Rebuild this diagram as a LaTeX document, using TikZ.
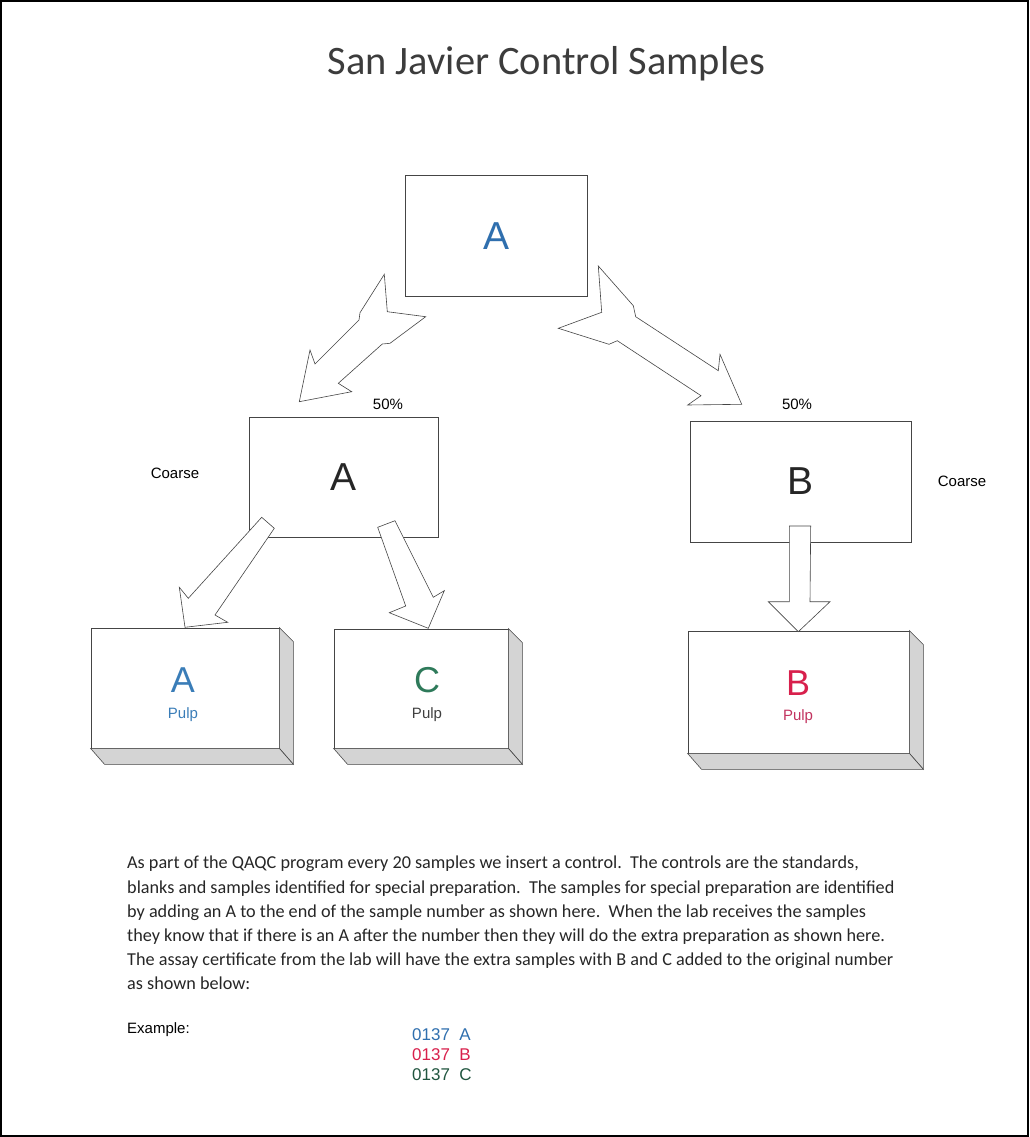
\documentclass[tikz,border=0pt]{standalone}
\usepackage{fontspec}
\usetikzlibrary{calc}
\setmainfont{Liberation Sans}
\newfontfamily\calib{Carlito}
\definecolor{ablue}{HTML}{2F6FAE}
\definecolor{pblue}{HTML}{3A7DB8}
\definecolor{cgreen}{HTML}{2E7A5A}
\definecolor{bred}{HTML}{D8204C}
\definecolor{pred}{HTML}{C2335F}
\definecolor{shade}{HTML}{D4D4D4}
\definecolor{edge}{HTML}{454545}
\definecolor{ttl}{HTML}{3C3C3C}
\begin{document}
\begin{tikzpicture}[x=1pt,y=-1pt,
  box/.style={draw=edge,line width=0.8pt,fill=white,inner sep=0pt},
  barrow/.style={draw=edge,line width=0.6pt,fill=white,line join=miter},
  sidef/.style={draw=edge,line width=0.6pt,fill=shade},
  lbl/.style={font=\fontsize{15}{18}\selectfont,inner sep=0pt},
  big/.style={font=\fontsize{39}{44}\selectfont,inner sep=0pt},
  mid/.style={font=\fontsize{36}{40}\selectfont,inner sep=0pt}]
\useasboundingbox (0,0) rectangle (1029,1137);
\draw[line width=1.5pt] (1,1) rectangle (1028,1136);

% title
\node[font=\calib\fontsize{40.4}{46}\selectfont,inner sep=0pt,anchor=base,text=ttl] (title) at (546.5,75) {San Javier Control Samples};

% top box
\node[box,minimum width=182pt,minimum height=121pt] (top) at (496,236) {};
\node[big,text=ablue] (topA) at (top.center) {A};

% middle boxes
\node[box,minimum width=189pt,minimum height=120pt] (midA) at (343.5,477) {};
\node[big,text=black!85] (midAl) at (midA.center) {A};
\node[box,minimum width=221pt,minimum height=121pt] (midB) at (800.5,481.5) {};
\node[big,text=black!85] (midBl) at (midB.center) {B};
\node[lbl] (pctA) at (388,404) {50\%};
\node[lbl] (pctB) at (797,404) {50\%};
\node[lbl] (coA) at (175,473) {Coarse};
\node[lbl] (coB) at (962,481) {Coarse};

% bottom 3D boxes
\node[box,minimum width=188pt,minimum height=120pt] (pA) at (185,688) {};
\node[box,minimum width=174pt,minimum height=119pt] (pC) at (421,688.5) {};
\node[box,minimum width=221pt,minimum height=122pt] (pB) at (798.5,692) {};
\foreach \n in {pA,pC,pB}{
  \draw[sidef] (\n.north east) -- ($(\n.north east)+(14,14)$) -- ($(\n.south east)+(14,16)$) -- (\n.south east) -- cycle;
  \draw[sidef] (\n.south west) -- ($(\n.south west)+(14,16)$) -- ($(\n.south east)+(14,16)$) -- (\n.south east) -- cycle;
}
\node[mid,text=pblue] (pAl) at (183,680) {A};
\node[lbl,text=pblue] (pAt) at (183,715) {Pulp};
\node[mid,text=cgreen] (pCl) at (427,680) {C};
\node[lbl,text=black!75] (pCt) at (427,715) {Pulp};
\node[mid,text=bred] (pBl) at (798,683) {B};
\node[lbl,text=pred] (pBt) at (798,717) {Pulp};

% block arrows
\draw[barrow] (384.3,274.3) -- (387.3,311.7) -- (425.7,316.7) -- (390,343.3) -- (382.3,344)
  -- (338.3,383.3) -- (351.7,391.7) -- (299.3,401.7) -- (310,350) -- (315,364)
  -- (359,320) -- (360,312.7) -- cycle;
\draw[barrow] (598.3,266) -- (601.7,312.3) -- (558.3,328.3) -- (609,344.3) -- (617.3,340.7)
  -- (701,395.7) -- (687.7,405) -- (741.7,404.3) -- (720,354.3) -- (718.3,370.7)
  -- (635.7,316.7) -- (633.3,305.7) -- cycle;
\draw[barrow] (261.7,517.3) -- (274.3,528.3) -- (215,615) -- (227.7,622.3) -- (185,627.3)
  -- (179.3,587.3) -- (188.3,598.3) -- cycle;
\draw[barrow] (377.7,527.3) -- (395,520.7) -- (433.3,597.3) -- (444.3,590.7) -- (428.3,628.3)
  -- (389.3,612.7) -- (405.7,606) -- cycle;
\draw[barrow] (789.3,526) -- (810.7,526) -- (810,601.7) -- (830,601.7) -- (798.3,631.7)
  -- (768.3,601.7) -- (789.3,601.7) -- cycle;

% body text
\node[font=\calib\fontsize{18.2}{24.2}\selectfont,align=left,anchor=north west,inner sep=0pt,text=black!85] (body) at (127,856)
{As part of the QAQC program every 20 samples we insert a control.\ \ The controls are the standards,\\
blanks and samples identified for special preparation.\ \ The samples for special preparation are identified\\
by adding an A to the end of the sample number as shown here.\ \ When the lab receives the samples\\
they know that if there is an A after the number then they will do the extra preparation as shown here.\\
The assay certificate from the lab will have the extra samples with B and C added to the original number\\
as shown below:};

\node[lbl,anchor=west] (ex) at (127,1030) {Example:};
\node[font=\fontsize{17}{20}\selectfont,inner sep=0pt,anchor=west,text=ablue] (e1) at (412,1035) {0137\ \ A};
\node[font=\fontsize{17}{20}\selectfont,inner sep=0pt,anchor=west,text=bred] (e2) at (412,1055) {0137\ \ B};
\node[font=\fontsize{17}{20}\selectfont,inner sep=0pt,anchor=west,text=cgreen!70!black] (e3) at (412,1075) {0137\ \ C};
\end{tikzpicture}
\end{document}
